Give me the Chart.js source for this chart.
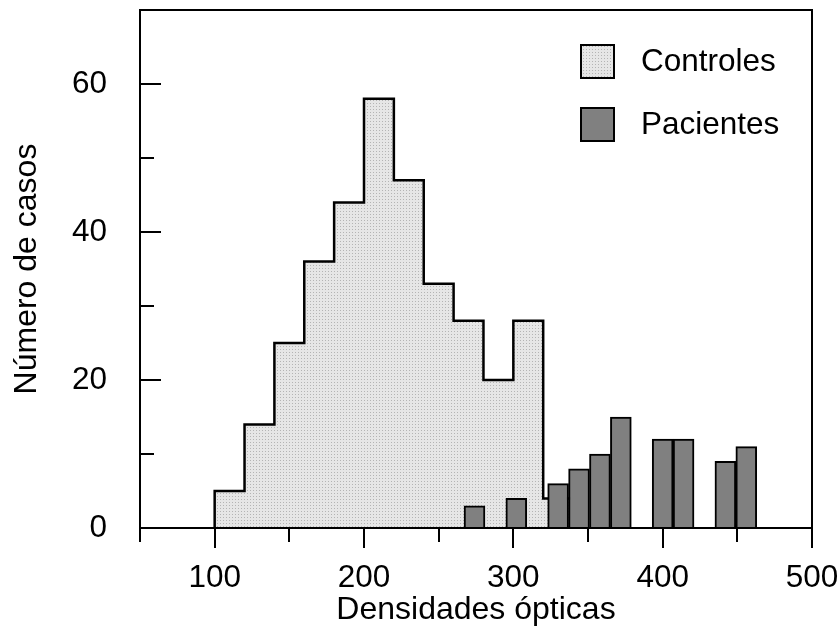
<!DOCTYPE html>
<html>
<head>
<meta charset="utf-8">
<script src="https://cdn.jsdelivr.net/npm/chart.js@4.4.1/dist/chart.umd.min.js"></script>
<style>
  html, body { margin: 0; padding: 0; background: #fff; }
  #wrap { width: 838px; height: 639px; }
</style>
</head>
<body>
<div id="wrap"><canvas id="chart" width="838" height="639"></canvas></div>
<script>
// histogram of controls: bin edges (width 20) and counts
const binEdges = [100, 120, 140, 160, 180, 200, 220, 240, 260, 280, 300, 320, 340];
const controles = [5, 14, 25, 36, 44, 58, 47, 33, 28, 20, 28, 4];

// patients: bin centres (width 14) and counts
const pacientesX = [274, 302, 330, 344, 358, 372, 400, 414, 442, 456];
const pacientes = [3, 4, 6, 8, 10, 15, 12, 12, 9, 11];

const seriesLabels = ["Controles", "Pacientes"];
const xTitle = "Densidades ópticas";
const yTitle = "Número de casos";

// stippled light grey fill
function stipple() {
  const c = document.createElement("canvas");
  c.width = 3;
  c.height = 3;
  const g = c.getContext("2d");
  g.fillStyle = "#e6e6e6";
  g.fillRect(0, 0, 3, 3);
  g.fillStyle = "#b4b4b4";
  g.fillRect(1, 1, 1, 1);
  return g.createPattern(c, "repeat");
}
const pattern = stipple();

// outline of the controls histogram as a stepped line
const controlPoints = [{ x: binEdges[0], y: 0 }];
controles.forEach((v, i) => controlPoints.push({ x: binEdges[i], y: v }));
controlPoints.push({ x: binEdges[binEdges.length - 1], y: 0 });

Chart.defaults.font.family = '"Liberation Sans", Arial, sans-serif';
Chart.defaults.font.size = 31.5;
Chart.defaults.color = "#000";

// fixed axis boxes, no extra label padding
function fixBox(size) {
  return (s) => {
    if (s.isHorizontal()) s.height = size;
    else s.width = size;
    s.paddingLeft = s.paddingRight = s.paddingTop = s.paddingBottom = 0;
  };
}

// frame, inner/outer tick marks and legend
const decorations = {
  id: "decorations",
  afterDraw(chart) {
    const { ctx, chartArea: a } = chart;
    const xs = chart.scales.x;
    const ys = chart.scales.y;
    ctx.save();
    ctx.strokeStyle = "#000";
    ctx.lineWidth = 2;
    ctx.strokeRect(a.left, a.top, a.right - a.left, a.bottom - a.top);

    ctx.beginPath();
    xs.ticks.forEach((t) => {
      const px = Math.round(xs.getPixelForValue(t.value));
      const len = t.value % 100 === 0 ? 20 : 14;
      ctx.moveTo(px, a.bottom);
      ctx.lineTo(px, a.bottom + len);
    });
    ys.ticks.forEach((t) => {
      if (t.value >= ys.max) return;
      const py = Math.round(ys.getPixelForValue(t.value));
      const len = t.value % 20 === 0 ? 21 : 14;
      ctx.moveTo(a.left, py);
      ctx.lineTo(a.left + len, py);
    });
    ctx.stroke();

    // legend
    ctx.font = '31.5px "Liberation Sans", Arial, sans-serif';
    ctx.textBaseline = "middle";
    chart.data.datasets.forEach((ds, i) => {
      const bx = 581, by = 45 + i * 63, size = 33;
      ctx.fillStyle = ds.backgroundColor;
      ctx.fillRect(bx, by, size, size);
      ctx.strokeStyle = "#000";
      ctx.lineWidth = 2;
      ctx.strokeRect(bx, by, size, size);
      ctx.fillStyle = "#000";
      ctx.fillText(ds.label, 641, by + size / 2 + 1);
    });
    ctx.restore();
  },
};

new Chart(document.getElementById("chart"), {
  type: "bar",
  data: {
    datasets: [
      {
        type: "line",
        label: seriesLabels[0],
        data: controlPoints,
        stepped: "before",
        fill: "origin",
        backgroundColor: pattern,
        borderColor: "#000",
        borderWidth: 2.5,
        pointRadius: 0,
        order: 1,
      },
      {
        type: "bar",
        label: seriesLabels[1],
        data: pacientesX.map((x, i) => ({ x: x, y: pacientes[i] })),
        backgroundColor: "#808080",
        borderColor: "#000",
        borderWidth: 2,
        barPercentage: 1,
        categoryPercentage: 1,
        order: 0,
      },
    ],
  },
  options: {
    responsive: false,
    animation: false,
    layout: { padding: { top: 10, right: 26, left: 0, bottom: 0 } },
    plugins: {
      legend: { display: false },
      tooltip: { enabled: false },
    },
    scales: {
      x: {
        type: "linear",
        min: 50,
        max: 500,
        offset: false,
        grid: { display: false, offset: false },
        border: { display: false },
        ticks: {
          stepSize: 50,
          padding: 23,
          maxRotation: 0,
          autoSkip: false,
          callback: (v) => (v % 100 === 0 ? v : ""),
        },
        title: {
          display: true,
          text: xTitle,
          font: { size: 32 },
          padding: { top: 0, bottom: 10 },
        },
        afterFit: fixBox(111),
      },
      y: {
        min: 0,
        max: 70,
        grid: { display: false },
        border: { display: false },
        ticks: {
          stepSize: 10,
          padding: 25,
          autoSkip: false,
          callback: (v) => (v % 20 === 0 && v < 70 ? v : ""),
        },
        title: {
          display: true,
          text: yTitle,
          font: { size: 32 },
          padding: { top: 8, bottom: 0 },
        },
        afterFit: fixBox(140),
      },
    },
  },
  plugins: [decorations],
});
</script>
</body>
</html>
